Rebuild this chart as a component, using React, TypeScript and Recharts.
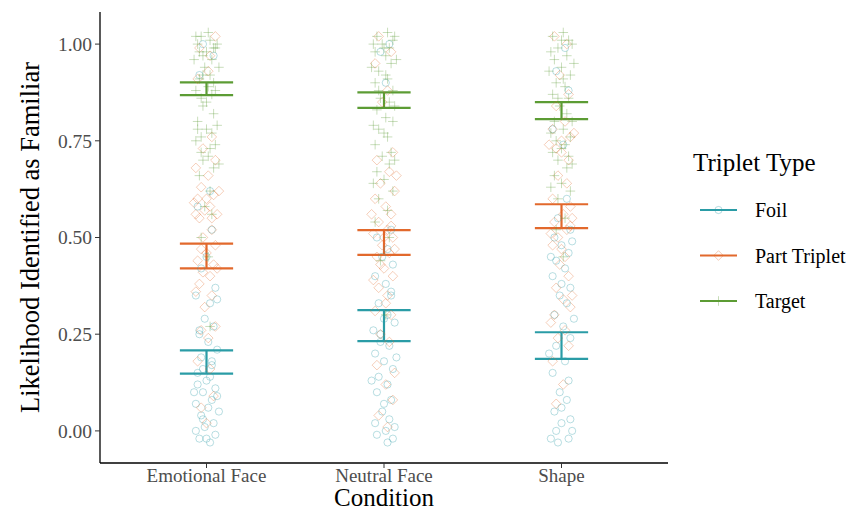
import React from "react";
import { ComposedChart, Scatter, XAxis, YAxis, ReferenceLine, Label } from "recharts";

const conditions = ["Emotional Face", "Neutral Face", "Shape"];
const tripletTypes = ["Foil", "Part Triplet", "Target"];
const yTicks = [0, 0.25, 0.5, 0.75, 1];

// 95% CI per condition: [lower, upper]
const foilCI = [[0.148, 0.208], [0.232, 0.312], [0.186, 0.255]];
const partCI = [[0.42, 0.484], [0.455, 0.519], [0.524, 0.586]];
const targetCI = [[0.868, 0.901], [0.835, 0.875], [0.806, 0.85]];

// jittered participant points: [x jitter, likelihood]
const emotionalTarget = [[-0.03,1.02],[0.02,1.01],[-0.05,1.0],[0.04,0.99],[0.0,0.98],[-0.02,0.97],[0.05,0.99],[-0.06,1.02],[0.03,0.96],[-0.01,0.94],[0.02,0.92],[-0.04,0.91],[0.01,0.89],[0.05,0.88],[-0.03,0.86],[0.03,0.87],[-0.02,0.84],[0.04,0.82],[-0.05,0.8],[0.0,0.78],[0.03,0.77],[-0.03,0.76],[0.05,0.74],[-0.06,0.75],[0.01,0.71],[-0.02,0.7],[0.04,0.68],[-0.04,0.66],[0.02,0.62],[-0.01,0.58],[0.03,0.56],[-0.03,0.5],[0.01,0.45],[0.02,0.27],[0.06,1.0],[-0.04,0.98],[0.01,1.03],[-0.07,0.96],[0.07,0.94],[-0.02,0.92],[0.04,0.9],[-0.06,0.88],[0.0,0.85],[0.06,0.79],[-0.05,0.78],[0.02,0.73],[-0.03,0.72],[0.07,0.69]];
const emotionalPart = [[0.05,1.02],[-0.04,0.99],[0.02,0.97],[-0.05,0.91],[0.03,0.76],[-0.02,0.73],[0.05,0.7],[-0.06,0.68],[0.01,0.66],[-0.03,0.63],[0.04,0.61],[-0.05,0.6],[0.02,0.58],[-0.01,0.57],[0.06,0.56],[-0.04,0.55],[0.03,0.52],[-0.02,0.5],[0.05,0.48],[0.0,0.46],[-0.05,0.44],[0.04,0.43],[-0.02,0.41],[0.02,0.4],[-0.04,0.38],[0.03,0.35],[-0.01,0.32],[0.05,0.27],[-0.03,0.26],[0.01,0.24],[-0.05,0.18],[0.02,0.16],[0.04,0.09],[-0.03,0.06],[0.0,0.02],[-0.06,0.56],[0.07,0.62],[-0.07,0.59],[0.0,0.6],[0.03,0.55],[-0.03,0.47],[0.06,0.42],[-0.06,0.36],[0.01,0.93]];
const emotionalFoil = [[-0.02,1.0],[0.04,0.97],[-0.04,0.92],[0.02,0.62],[-0.05,0.58],[0.03,0.52],[0.0,0.45],[-0.03,0.42],[0.05,0.37],[-0.06,0.35],[0.02,0.33],[-0.01,0.29],[0.04,0.27],[-0.04,0.25],[0.01,0.23],[0.06,0.21],[-0.03,0.19],[0.03,0.17],[-0.05,0.15],[0.0,0.13],[0.05,0.11],[-0.02,0.1],[0.03,0.08],[-0.06,0.07],[0.01,0.06],[-0.03,0.04],[0.04,0.02],[-0.01,0.01],[0.05,-0.01],[-0.04,-0.02],[0.02,-0.03],[-0.05,0.12],[0.06,0.09],[-0.02,0.03],[0.03,0.18],[-0.04,0.26],[0.07,0.05],[-0.07,0.1],[0.02,0.14],[-0.02,0.16],[0.06,0.34],[-0.06,0.0],[0.0,-0.02]];

const neutralTarget = [[0.02,1.03],[-0.04,1.02],[0.05,1.01],[-0.01,1.0],[0.03,0.99],[-0.05,0.98],[0.01,0.97],[0.04,0.95],[-0.03,0.93],[0.02,0.91],[-0.05,0.9],[0.05,0.88],[-0.02,0.86],[0.03,0.85],[-0.04,0.83],[0.01,0.81],[0.05,0.8],[-0.03,0.78],[0.02,0.76],[-0.05,0.74],[0.04,0.72],[-0.01,0.71],[0.03,0.69],[-0.04,0.67],[0.0,0.65],[0.05,0.62],[-0.03,0.6],[0.02,0.57],[-0.05,0.54],[0.03,0.5],[-0.02,0.44],[0.01,0.3],[0.06,1.02],[-0.06,1.0],[0.0,0.99],[0.07,0.96],[-0.07,0.94],[0.01,0.92],[-0.03,0.88],[0.06,0.84],[-0.06,0.79],[0.0,0.77],[0.06,0.7],[-0.06,0.64]];
const neutralPart = [[-0.03,1.02],[0.04,0.98],[-0.05,0.95],[0.02,0.88],[-0.01,0.85],[0.05,0.72],[-0.04,0.7],[0.03,0.67],[-0.02,0.64],[0.06,0.62],[-0.05,0.6],[0.01,0.58],[0.04,0.56],[-0.03,0.54],[0.02,0.52],[-0.06,0.51],[0.05,0.5],[-0.01,0.48],[0.03,0.46],[-0.04,0.45],[0.0,0.42],[0.05,0.4],[-0.03,0.37],[0.02,0.35],[-0.05,0.31],[0.04,0.3],[-0.02,0.25],[0.03,0.23],[-0.04,0.17],[0.01,0.12],[0.05,0.08],[-0.03,0.04],[0.02,0.01],[0.04,0.53],[-0.02,0.43],[0.07,0.66],[-0.07,0.56],[0.0,0.5],[0.06,0.47],[-0.06,0.39],[0.01,0.33],[0.06,0.15]];
const neutralFoil = [[0.03,1.0],[-0.02,0.98],[0.01,0.9],[0.04,0.52],[-0.04,0.5],[0.02,0.47],[-0.01,0.45],[0.05,0.43],[-0.05,0.4],[0.01,0.38],[0.04,0.36],[-0.03,0.33],[0.02,0.3],[0.06,0.28],[-0.02,0.25],[0.03,0.22],[-0.05,0.2],[0.0,0.18],[0.05,0.16],[-0.03,0.14],[0.02,0.12],[-0.04,0.1],[0.04,0.08],[-0.01,0.05],[0.03,0.03],[-0.05,0.02],[0.01,0.0],[0.05,-0.02],[0.02,-0.03],[-0.02,0.23],[0.0,0.29],[0.04,0.35],[-0.06,0.26],[0.07,0.19],[-0.07,0.13],[0.0,0.07],[0.06,0.01],[-0.04,-0.01]];

const shapeTarget = [[0.01,1.03],[-0.05,1.02],[0.04,1.01],[-0.02,0.99],[0.03,0.97],[-0.04,0.96],[0.0,0.94],[0.05,0.92],[-0.03,0.9],[0.02,0.89],[-0.05,0.87],[0.04,0.86],[-0.01,0.84],[0.03,0.82],[-0.04,0.8],[0.01,0.78],[0.05,0.76],[-0.03,0.75],[0.02,0.74],[-0.05,0.72],[0.04,0.71],[-0.02,0.7],[0.03,0.68],[-0.04,0.66],[0.0,0.64],[0.05,0.62],[-0.02,0.6],[0.02,0.55],[-0.03,0.52],[0.01,0.45],[0.06,1.0],[-0.06,0.98],[0.0,1.01],[0.07,0.95],[-0.07,0.93],[0.01,0.91],[-0.02,0.86],[0.06,0.8],[-0.06,0.77],[0.0,0.73],[0.06,0.69],[-0.06,0.63]];
const shapePart = [[-0.04,1.02],[0.03,1.0],[-0.01,0.92],[0.04,0.87],[-0.03,0.84],[0.02,0.8],[-0.05,0.78],[0.05,0.76],[0.0,0.75],[-0.03,0.73],[0.04,0.7],[-0.02,0.66],[0.03,0.64],[-0.05,0.6],[0.05,0.58],[0.01,0.56],[-0.04,0.54],[0.03,0.52],[-0.02,0.5],[0.05,0.53],[-0.05,0.48],[0.02,0.45],[-0.01,0.43],[0.04,0.4],[-0.03,0.37],[0.01,0.34],[0.05,0.32],[-0.04,0.3],[0.02,0.26],[-0.02,0.24],[0.04,0.22],[-0.05,0.18],[0.01,0.12],[-0.03,0.07],[0.07,0.77],[-0.07,0.74],[0.0,0.72],[0.06,0.55],[-0.06,0.51],[0.0,0.47],[0.06,0.35],[-0.06,0.28]];
const shapeFoil = [[0.02,0.99],[-0.03,0.93],[0.04,0.88],[-0.05,0.78],[0.01,0.74],[0.03,0.6],[-0.02,0.55],[0.05,0.52],[-0.04,0.5],[0.0,0.48],[0.04,0.46],[-0.03,0.44],[0.02,0.42],[-0.05,0.4],[0.05,0.37],[-0.01,0.35],[0.03,0.33],[-0.04,0.3],[0.01,0.27],[0.05,0.24],[-0.03,0.22],[0.02,0.18],[-0.05,0.15],[0.04,0.13],[-0.01,0.1],[0.03,0.08],[-0.04,0.05],[0.05,0.03],[0.0,0.02],[-0.03,0.0],[0.04,-0.02],[-0.02,-0.03],[0.06,0.49],[-0.06,0.45],[0.0,0.38],[0.07,0.29],[-0.07,0.2],[0.0,0.06],[0.06,0.0],[-0.06,-0.02]];

const TEAL = "#2a9ca6";
const ORANGE = "#e2692c";
const GREEN = "#5c9c34";
const SERIF = "'Liberation Serif', 'Times New Roman', serif";

const toPoints = (groups: number[][][]) =>
  groups.flatMap((pts, i) => pts.map(([dx, y]) => ({ x: i + 1 + dx, y })));

const series = [
  { name: tripletTypes[0], color: TEAL, data: toPoints([emotionalFoil, neutralFoil, shapeFoil]), ci: foilCI, mark: "circle" },
  { name: tripletTypes[1], color: ORANGE, data: toPoints([emotionalPart, neutralPart, shapePart]), ci: partCI, mark: "diamond" },
  { name: tripletTypes[2], color: GREEN, data: toPoints([emotionalTarget, neutralTarget, shapeTarget]), ci: targetCI, mark: "plus" },
];

const Marker = ({ cx, cy, color, mark, opacity }: any) => {
  if (cx == null || cy == null) return null;
  const common = { fill: "none", stroke: color, strokeOpacity: opacity, strokeWidth: 1 };
  if (mark === "circle") return <circle cx={cx} cy={cy} r={3.6} {...common} />;
  if (mark === "diamond")
    return <path d={`M${cx},${cy - 4.8}L${cx + 4.8},${cy}L${cx},${cy + 4.8}L${cx - 4.8},${cy}Z`} {...common} />;
  return <path d={`M${cx - 4.8},${cy}H${cx + 4.8}M${cx},${cy - 4.8}V${cy + 4.8}`} {...common} />;
};

const CAP = 0.15;

export default function App() {
  return (
    <div style={{ position: "absolute", left: 0, top: 0, width: 860, height: 512, background: "#fff" }}>
      <ComposedChart width={860} height={512} margin={{ top: 12, right: 192, bottom: 0, left: 0 }}>
        <XAxis
          type="number"
          dataKey="x"
          domain={[0.4, 3.6]}
          ticks={[1, 2, 3]}
          tickFormatter={(v: number) => conditions[v - 1]}
          height={49}
          tickSize={5}
          tickMargin={1}
          axisLine={{ stroke: "#000", strokeWidth: 1.3 }}
          tickLine={{ stroke: "#333" }}
          tick={{ fill: "#4d4d4d", fontSize: 19, fontFamily: SERIF }}
          allowDataOverflow
        >
          <Label
            content={({ viewBox }: any) => (
              <text x={viewBox.x + viewBox.width / 2} y={viewBox.y + 43} textAnchor="middle" fontSize={25} fontFamily={SERIF} fill="#000">
                Condition
              </text>
            )}
          />
        </XAxis>
        <YAxis
          type="number"
          dataKey="y"
          domain={[-0.083, 1.083]}
          ticks={yTicks}
          tickFormatter={(v: number) => v.toFixed(2)}
          width={100}
          tickSize={5}
          tickMargin={3}
          axisLine={{ stroke: "#000", strokeWidth: 1.3 }}
          tickLine={{ stroke: "#333" }}
          tick={{ fill: "#4d4d4d", fontSize: 19.5, fontFamily: SERIF }}
          allowDataOverflow
        >
          <Label
            content={({ viewBox }: any) => {
              const cx = viewBox.x + 33;
              const cy = viewBox.y + viewBox.height / 2;
              return (
                <text x={cx} y={cy} transform={`rotate(-90 ${cx} ${cy})`} textAnchor="middle" dominantBaseline="middle" fontSize={26.5} fontFamily={SERIF} fill="#000">
                  Likelihood Identified as Familiar
                </text>
              );
            }}
          />
        </YAxis>
        {series.map((s) => (
          <Scatter
            key={s.name}
            name={s.name}
            data={s.data}
            isAnimationActive={false}
            shape={(p: any) => <Marker cx={p.cx} cy={p.cy} color={s.color} mark={s.mark} opacity={0.33} />}
          />
        ))}
        {series.flatMap((s) =>
          s.ci.flatMap(([lo, hi], i) => {
            const c = i + 1;
            const st = { stroke: s.color, strokeWidth: 2.2, strokeOpacity: 1 };
            return [
              <ReferenceLine key={`${s.name}-t-${i}`} segment={[{ x: c - CAP, y: hi }, { x: c + CAP, y: hi }]} {...st} />,
              <ReferenceLine key={`${s.name}-b-${i}`} segment={[{ x: c - CAP, y: lo }, { x: c + CAP, y: lo }]} {...st} />,
              <ReferenceLine key={`${s.name}-v-${i}`} segment={[{ x: c, y: lo }, { x: c, y: hi }]} {...st} />,
            ];
          })
        )}
      </ComposedChart>
      <svg width={170} height={180} style={{ position: "absolute", left: 690, top: 140 }}>
        <text x={3} y={31} fontSize={25} fontFamily={SERIF} fill="#000">
          Triplet Type
        </text>
        {series.map((s, i) => {
          const y = 70 + i * 45.5;
          return (
            <g key={s.name}>
              <line x1={10} x2={47} y1={y} y2={y} stroke={s.color} strokeWidth={2.2} />
              <Marker cx={28.5} cy={y} color={s.color} mark={s.mark} opacity={0.35} />
              <text x={65} y={y + 7} fontSize={20} fontFamily={SERIF} fill="#000">
                {s.name}
              </text>
            </g>
          );
        })}
      </svg>
    </div>
  );
}
